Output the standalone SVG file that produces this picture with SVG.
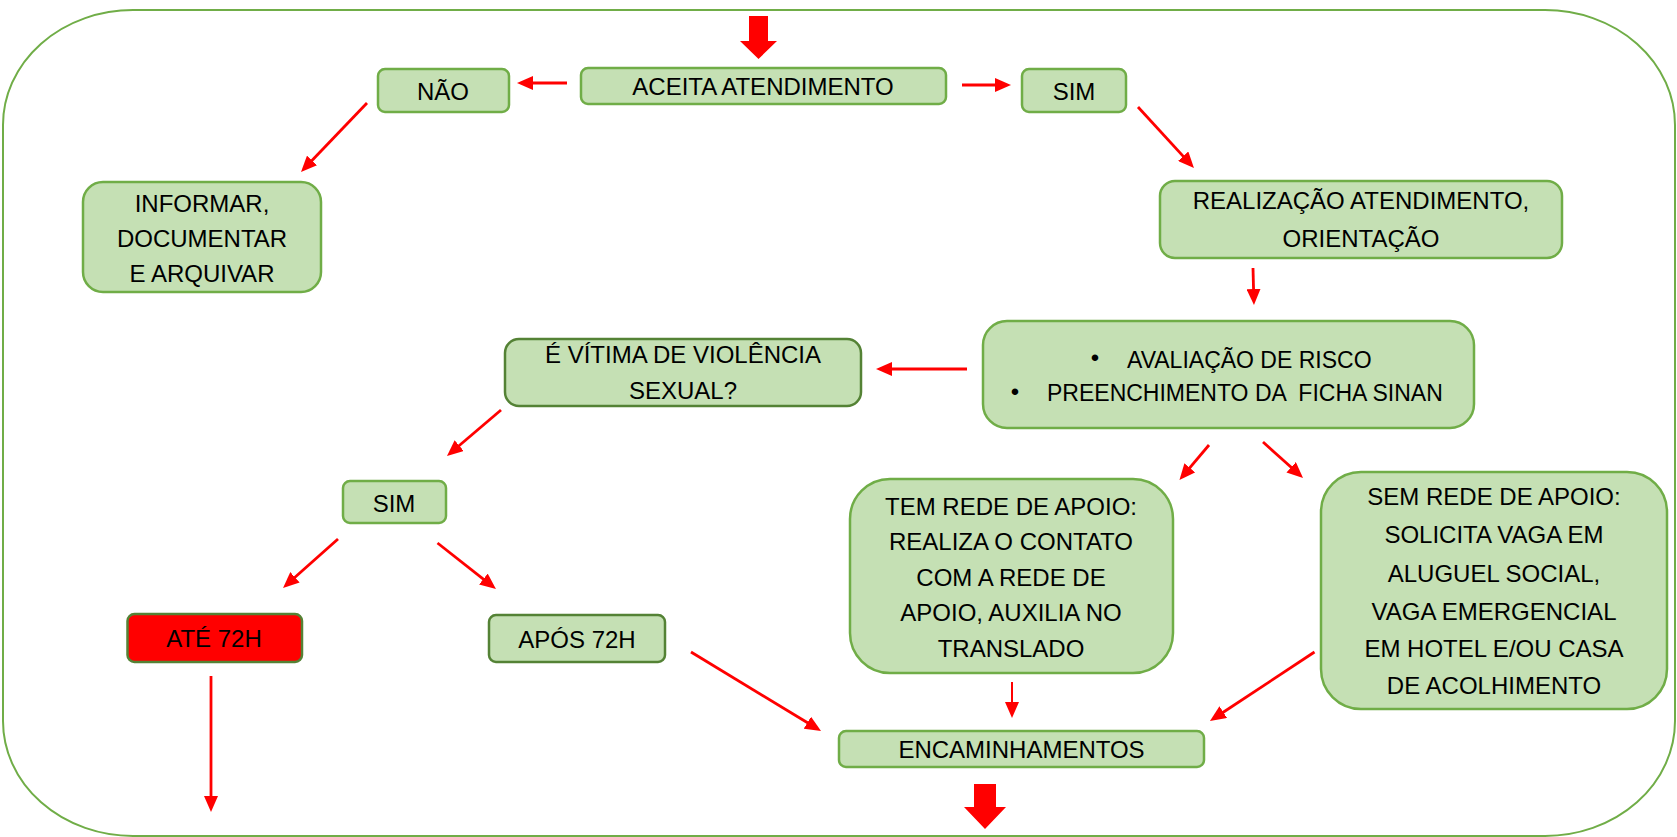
<svg xmlns="http://www.w3.org/2000/svg" width="1677" height="837" viewBox="0 0 1677 837">
<style>
.box{fill:#C5E0B4;stroke:#70AD47;stroke-width:2.5}
.dark{stroke:#548235}
.red{fill:#FF0000;stroke:#548235;stroke-width:2.5}
.t{font-family:"Liberation Sans",Arial,sans-serif;font-size:24px;fill:#000;text-anchor:middle}
.ts{font-family:"Liberation Sans",Arial,sans-serif;font-size:23px;fill:#000;text-anchor:start;white-space:pre}
.c{stroke:#FF0000;stroke-width:2.8;fill:none;marker-end:url(#ah)}
.thin{stroke-width:2}
.blk{fill:#FF0000}
</style>
<defs>
<marker id="ah" markerUnits="userSpaceOnUse" markerWidth="16" markerHeight="14" refX="6" refY="7" orient="auto">
<path d="M0,0 L16,7 L0,14 z" fill="#FF0000"/>
</marker>
</defs>
<rect x="3" y="10" width="1672" height="826" rx="130" ry="115" fill="none" stroke="#70AD47" stroke-width="2"/>

<g id="connectors">
<polygon class="blk" points="749,16 768,16 768,41 777,41 758.5,59 740,41 749,41"/>
<polygon class="blk" points="974,784 996,784 996,807 1006,807 985,829 964,807 974,807"/>
<line class="c" x1="567" y1="83" x2="527" y2="83"/>
<line class="c" x1="962" y1="85" x2="1001" y2="85"/>
<line class="c" x1="367" y1="103" x2="307.9" y2="164.8"/>
<line class="c" x1="1138" y1="107" x2="1187.2" y2="160.6"/>
<line class="c" x1="1253" y1="268" x2="1253.7" y2="295"/>
<line class="c" x1="967" y1="369" x2="886" y2="369"/>
<line class="c" x1="501" y1="410" x2="454.6" y2="449.5"/>
<line class="c" x1="338" y1="539" x2="290.5" y2="581.3"/>
<line class="c" x1="437.5" y1="543" x2="488.1" y2="582.8"/>
<line class="c" x1="211" y1="676" x2="211" y2="802"/>
<line class="c" x1="691" y1="652" x2="812.5" y2="725.8"/>
<line class="c" x1="1209" y1="445" x2="1185.9" y2="472.4"/>
<line class="c" x1="1263" y1="442" x2="1295.6" y2="471.3"/>
<line class="c thin" x1="1012" y1="682" x2="1012" y2="708"/>
<line class="c" x1="1314.5" y1="652" x2="1218.3" y2="715.5"/>
</g>

<g id="aceita">
<rect class="box" x="581" y="68" width="365" height="36" rx="7"/>
<text class="t" x="763" y="95">ACEITA ATENDIMENTO</text>
</g>
<g id="nao">
<rect class="box" x="378" y="69" width="131" height="43" rx="7"/>
<text class="t" x="443" y="100">NÃO</text>
</g>
<g id="sim1">
<rect class="box" x="1022" y="69" width="104" height="43" rx="7"/>
<text class="t" x="1074" y="100">SIM</text>
</g>
<g id="informar">
<rect class="box" x="83" y="182" width="238" height="110" rx="20"/>
<text class="t" x="202" y="212">INFORMAR,</text>
<text class="t" x="202" y="247">DOCUMENTAR</text>
<text class="t" x="202" y="282">E ARQUIVAR</text>
</g>
<g id="realizacao">
<rect class="box" x="1160" y="181" width="402" height="77" rx="15"/>
<text class="t" x="1361" y="209">REALIZAÇÃO ATENDIMENTO,</text>
<text class="t" x="1361" y="247">ORIENTAÇÃO</text>
</g>
<g id="avaliacao">
<rect class="box" x="983" y="321" width="491" height="107" rx="24"/>
<text class="t" x="1095" y="366">•</text>
<text class="ts" x="1127" y="368">AVALIAÇÃO DE RISCO</text>
<text class="t" x="1015" y="400">•</text>
<text class="ts" x="1047" y="401">PREENCHIMENTO DA  FICHA SINAN</text>
</g>
<g id="vitima">
<rect class="box dark" x="505" y="339" width="356" height="67" rx="14"/>
<text class="t" x="683" y="363">É VÍTIMA DE VIOLÊNCIA</text>
<text class="t" x="683" y="399">SEXUAL?</text>
</g>
<g id="sim2">
<rect class="box" x="343" y="481" width="103" height="42" rx="7"/>
<text class="t" x="394" y="512">SIM</text>
</g>
<g id="ate72">
<rect class="red" x="127.5" y="614" width="174.5" height="48" rx="7"/>
<text class="t" x="214" y="647">ATÉ 72H</text>
</g>
<g id="apos72">
<rect class="box dark" x="489" y="615" width="176" height="47" rx="7"/>
<text class="t" x="577" y="648">APÓS 72H</text>
</g>
<g id="temrede">
<rect class="box" x="850" y="479" width="323" height="194" rx="40"/>
<text class="t" x="1011" y="515">TEM REDE DE APOIO:</text>
<text class="t" x="1011" y="550">REALIZA O CONTATO</text>
<text class="t" x="1011" y="586">COM A REDE DE</text>
<text class="t" x="1011" y="621">APOIO, AUXILIA NO</text>
<text class="t" x="1011" y="657">TRANSLADO</text>
</g>
<g id="semrede">
<rect class="box" x="1321" y="472" width="346" height="237" rx="40"/>
<text class="t" x="1494" y="505">SEM REDE DE APOIO:</text>
<text class="t" x="1494" y="543">SOLICITA VAGA EM</text>
<text class="t" x="1494" y="582">ALUGUEL SOCIAL,</text>
<text class="t" x="1494" y="620">VAGA EMERGENCIAL</text>
<text class="t" x="1494" y="657">EM HOTEL E/OU CASA</text>
<text class="t" x="1494" y="694">DE ACOLHIMENTO</text>
</g>
<g id="encaminhamentos">
<rect class="box" x="839" y="731" width="365" height="36" rx="7"/>
<text class="t" x="1021.5" y="758">ENCAMINHAMENTOS</text>
</g>
</svg>
